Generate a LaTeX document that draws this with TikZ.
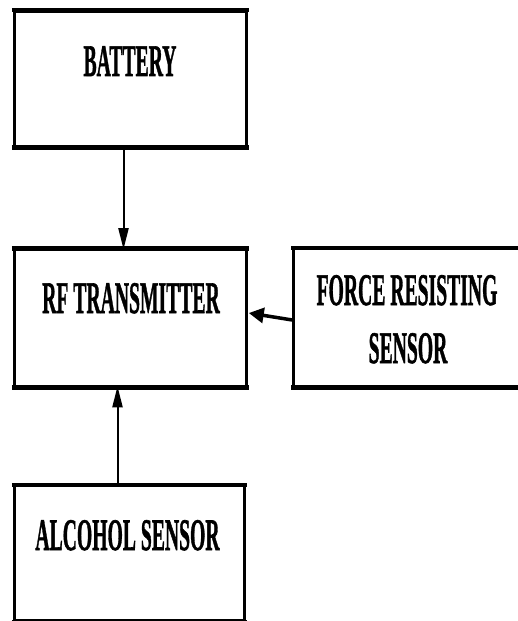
\documentclass[tikz,border=0pt]{standalone}
\usepackage{fontspec}
\setmainfont{Liberation Serif}
\newfontfamily\heavy{Liberation Serif Bold}[FakeBold=1.5]
\usepackage{graphicx}
\usetikzlibrary{arrows.meta}
\newcommand{\sqz}[1]{\scalebox{0.47}[1.08]{#1}}
\tikzset{
  box/.style={draw, line width=2.5bp, rectangle, inner sep=0pt},
  hline/.style={line width=4.5bp, shorten <=-1.25bp, shorten >=-1.25bp},
  lbl/.style={anchor=base, inner sep=0pt, font=\fontsize{42}{42}\selectfont\heavy},
  varr/.style={line width=2bp, -{Triangle[length=21bp,width=10bp]}},
  harr/.style={line width=3.5bp, -{Triangle[length=15bp,width=15bp]}}
}
\begin{document}
\begin{tikzpicture}[x=1bp,y=-1bp]
\useasboundingbox (0,0) rectangle (518,621);
\fill[white] (0,0) rectangle (518,621);
\clip (0,0) rectangle (518,621);
% boxes
\node[box, minimum width=232bp, minimum height=134.5bp] (bat) at (130.5,78.75) {};
\node[box, minimum width=232bp, minimum height=136.5bp] (rf) at (130.5,317.75) {};
\node[box, minimum width=246.5bp, minimum height=137bp] (frs) at (416.75,317.5) {};
\node[box, minimum width=230bp, minimum height=134.5bp] (alc) at (129.5,553.25) {};
\foreach \b in {bat,rf,frs,alc}{
  \draw[hline] (\b.north west) -- (\b.north east);
  \draw[hline] (\b.south west) -- (\b.south east);
}
% labels
\node[lbl] (tbat) at (130,76) {\sqz{BATTERY}};
\node[lbl] (trf) at (131,313) {\sqz{RF TRANSMITTER}};
\node[lbl] (tfrs1) at (407,305) {\sqz{FORCE RESISTING}};
\node[lbl] (tfrs2) at (408,363) {\sqz{SENSOR}};
\node[lbl] (talc) at (127.5,550) {\sqz{ALCOHOL SENSOR}};
% connectors
\coordinate (ax) at (123.5,0);
\coordinate (bx) at (117.5,0);
\coordinate (fa) at (0,320);
\coordinate (fb) at (0,313);
\draw[varr] (bat.south -| ax) -- ([yshift=-1bp]rf.north -| ax);
\draw[varr] (alc.north -| bx) -- ([yshift=1bp]rf.south -| bx);
\draw[harr] (frs.west |- fa) -- ([xshift=1bp]rf.east |- fb);
\end{tikzpicture}
\end{document}
